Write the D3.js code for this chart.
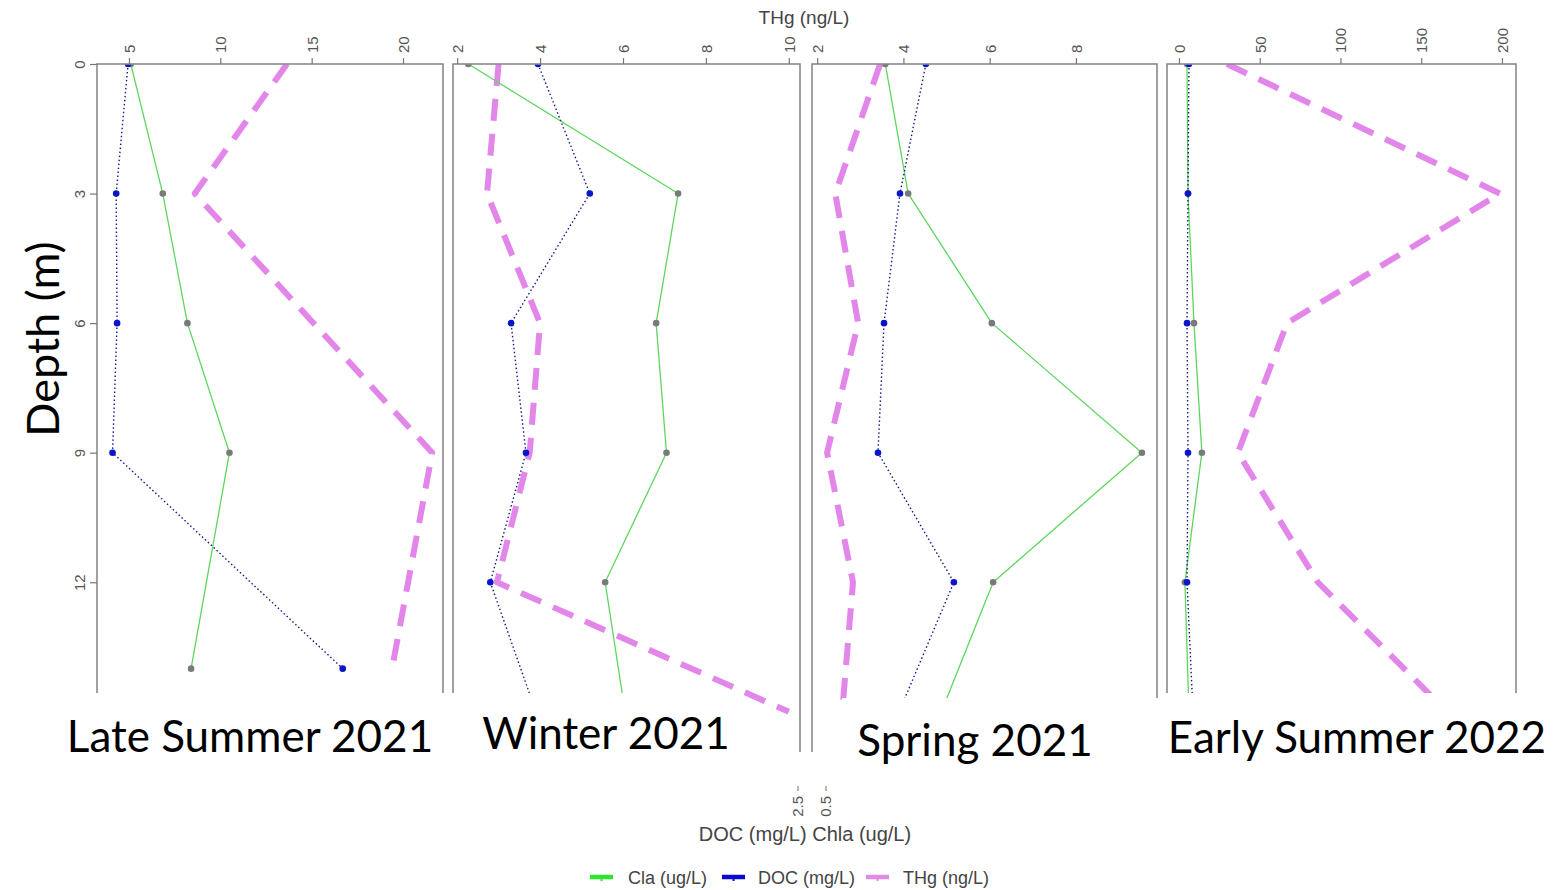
<!DOCTYPE html>
<html>
<head>
<meta charset="utf-8">
<script src="https://cdn.jsdelivr.net/npm/d3@7"></script>
<style>
  html, body { margin: 0; padding: 0; background: #fff; }
  svg { display: block; }
</style>
</head>
<body>
<svg id="chart" width="1554" height="890"></svg>
<script>
// ---- data -------------------------------------------------------------
const seasons = ["Late Summer 2021", "Winter 2021", "Spring 2021", "Early Summer 2022"];
const seriesNames = ["Cla (ug/L)", "DOC (mg/L)", "THg (ng/L)"];
const depthTicks = [0, 3, 6, 9, 12];
const depthRange = [0, 16];

// sampling depths (m) per season
const depthLateSummer = [0, 3, 6, 9, 12, 14];
const depthWinter = [0, 3, 6, 9, 12, 15];
const depthSpring = [0, 3, 6, 9, 12, 15];
const depthEarlySummer = [0, 3, 6, 9, 12, 15];

// chlorophyll a
const chlaLateSummer = [5.1, 6.85, 8.2, 10.5, null, 8.4];
const chlaWinter = [2.27, 7.33, 6.8, 7.05, 5.57, 6.05];
const chlaSpring = [3.58, 4.11, 6.05, 9.53, 6.08, 4.88];
const chlaEarlySummer = [5.0, 5.6, 9.3, 14.2, 3.7, 6.2];

// dissolved organic carbon
const docLateSummer = [4.95, 4.3, 4.35, 4.1, null, 16.7];
const docWinter = [3.95, 5.2, 3.3, 3.66, 2.8, 3.9];
const docSpring = [4.52, 3.92, 3.55, 3.41, 5.17, 3.9];
const docEarlySummer = [6.2, 5.6, 5.0, 5.6, 5.0, 8.7];

// total mercury
const thgLateSummer = [13.65, 8.6, null, 21.6, null, 19.4];
const thgWinter = [3.0, 2.72, 4.0, 3.75, 2.96, 10.0];
const thgSpring = [3.46, 2.42, 2.95, 2.23, 2.83, 2.58];
const thgEarlySummer = [29.7, 198.8, 66.9, 36.5, 86, 166];

// concentration axis limits and tick labels per season
const xLimits = [[3.25, 22.19], [1.9, 10.27], [1.88, 9.88], [-7.4, 208.7]];
const xTicks = [[5, 10, 15, 20], [2, 4, 6, 8, 10], [2, 4, 6, 8], [0, 50, 100, 150, 200]];

// ---- styles -----------------------------------------------------------
const seriesStyle = [
  { stroke: "#5fd65f", width: 1.3, dash: null, dot: "#7a7a7a" },
  { stroke: "#1a1a8c", width: 1.4, dash: "1.5,2.5", dot: "#0a14c8" },
  { stroke: "#e286ea", width: 6, dash: "22,13", dot: null }
];
const legendColors = ["#2ee52e", "#0a0ad0", "#e28ae8"];
const axisFont = "Liberation Sans, Arial, sans-serif";
const labelFont = "Lato, 'Open Sans', sans-serif";

const svg = d3.select("#chart");
const plotTop = 64, plotBottom = 755;
const panelX = [[97, 443], [453, 800], [812, 1157], [1167, 1516]];

const depths = [depthLateSummer, depthWinter, depthSpring, depthEarlySummer];
const chla = [chlaLateSummer, chlaWinter, chlaSpring, chlaEarlySummer];
const doc = [docLateSummer, docWinter, docSpring, docEarlySummer];
const thg = [thgLateSummer, thgWinter, thgSpring, thgEarlySummer];

const y = d3.scaleLinear().domain(depthRange).range([plotTop, plotBottom]);

const defs = svg.append("defs");

seasons.forEach((season, i) => {
  const [x0, x1] = panelX[i];
  const x = d3.scaleLinear().domain(xLimits[i]).range([x0, x1]);
  const g = svg.append("g").attr("class", "panel");

  defs.append("clipPath").attr("id", "clip" + i)
    .append("rect").attr("x", x0).attr("y", plotTop)
    .attr("width", x1 - x0).attr("height", plotBottom - plotTop);

  const plot = g.append("g").attr("clip-path", `url(#clip${i})`);

  const series = [chla[i], doc[i], thg[i]];
  // THg first so the thin profiles stay on top
  [2, 0, 1].forEach(s => {
    const pts = depths[i].map((d, k) => ({ d, v: series[s][k] })).filter(p => p.v != null);
    const st = seriesStyle[s];
    plot.append("path")
      .datum(pts)
      .attr("fill", "none")
      .attr("stroke", st.stroke)
      .attr("stroke-width", st.width)
      .attr("stroke-dasharray", st.dash)
      .attr("stroke-linejoin", "round")
      .attr("d", d3.line().x(p => x(p.v)).y(p => y(p.d)));
    if (st.dot) {
      plot.selectAll(null).data(pts).enter().append("circle")
        .attr("cx", p => x(p.v)).attr("cy", p => y(p.d))
        .attr("r", 3.3).attr("fill", st.dot);
    }
  });

  // frame
  g.append("rect")
    .attr("x", x0).attr("y", plotTop)
    .attr("width", x1 - x0).attr("height", plotBottom - plotTop)
    .attr("fill", "none").attr("stroke", "#8a8a8a").attr("stroke-width", 1.6);

  // top THg axis
  const ax = g.append("g").attr("transform", `translate(0,${plotTop})`)
    .call(d3.axisTop(x).tickValues(xTicks[i]).tickSize(6).tickFormat(d3.format("d")));
  ax.select(".domain").remove();
  ax.selectAll(".tick line").attr("stroke", "#777").attr("stroke-width", 1.2);
  ax.selectAll(".tick text")
    .attr("transform", "rotate(-90)")
    .attr("x", 11).attr("y", 0).attr("dy", "0.36em")
    .attr("text-anchor", "start")
    .attr("fill", "#555")
    .style("font-family", axisFont)
    .style("font-size", "15px");

  if (i === 0) {
    const ay = g.append("g").attr("transform", `translate(${x0},0)`)
      .call(d3.axisLeft(y).tickValues(depthTicks).tickSize(7));
    ay.select(".domain").remove();
    ay.selectAll(".tick line").attr("stroke", "#777").attr("stroke-width", 1.2);
    ay.selectAll(".tick text")
      .attr("transform", "rotate(-90)")
      .attr("x", 0).attr("y", -17).attr("dy", "0.36em")
      .attr("text-anchor", "middle")
      .attr("fill", "#555")
      .style("font-family", axisFont)
      .style("font-size", "15px");
  }
});

// band hiding the lower frame edges
svg.append("rect").attr("x", 440).attr("y", 752).attr("width", 740).attr("height", 30).attr("fill", "#fff");

// season label boxes
const labelBoxes = [[58, 693, 398, 80], [456, 693, 279, 80], [842, 698, 318, 80], [1160, 693, 394, 80]];
const labelCenters = [[250, 735], [606, 732], [975, 739], [1357, 736]];
seasons.forEach((season, i) => {
  const b = labelBoxes[i];
  svg.append("rect").attr("x", b[0]).attr("y", b[1]).attr("width", b[2]).attr("height", b[3]).attr("fill", "#fff");
  svg.append("text")
    .attr("x", labelCenters[i][0]).attr("y", labelCenters[i][1])
    .attr("text-anchor", "middle").attr("dominant-baseline", "central")
    .style("font-family", labelFont)
    .style("font-size", "44px")
    .attr("fill", "#000")
    .text(season);
});

// depth title
svg.append("text")
  .attr("transform", "translate(42,339) rotate(-90)")
  .attr("text-anchor", "middle").attr("dominant-baseline", "central")
  .style("font-family", labelFont)
  .style("font-size", "45px")
  .attr("fill", "#000")
  .text("Depth (m)");

// axis titles
svg.append("text")
  .attr("x", 804).attr("y", 17)
  .attr("text-anchor", "middle").attr("dominant-baseline", "central")
  .style("font-family", axisFont)
  .style("font-size", "19px").attr("fill", "#444")
  .text("THg (ng/L)");

svg.append("text")
  .attr("x", 805).attr("y", 834)
  .attr("text-anchor", "middle").attr("dominant-baseline", "central")
  .style("font-family", axisFont)
  .style("font-size", "20px").attr("fill", "#444")
  .text("DOC (mg/L) Chla (ug/L)");

// remaining bottom tick labels of the DOC/Chla axes
const bottomTickLabels = [["2.5", 798], ["0.5", 826]];
bottomTickLabels.forEach(([t, bx]) => {
  svg.append("line").attr("x1", bx).attr("x2", bx).attr("y1", 786).attr("y2", 791)
    .attr("stroke", "#888").attr("stroke-width", 1.2);
  svg.append("text")
    .attr("transform", `translate(${bx},796) rotate(-90)`)
    .attr("text-anchor", "end").attr("dy", "0.36em")
    .style("font-family", axisFont)
    .style("font-size", "15px").attr("fill", "#555")
    .text(t);
});

// legend
const legendX = [590, 722, 866];
const legendTextX = [628, 758, 903];
const legend = svg.append("g");
seriesNames.forEach((name, i) => {
  const lx = legendX[i];
  legend.append("line")
    .attr("x1", lx).attr("x2", lx + 23).attr("y1", 877).attr("y2", 877)
    .attr("stroke", legendColors[i]).attr("stroke-width", 4.5);
  legend.append("line")
    .attr("x1", lx + 11.5).attr("x2", lx + 11.5).attr("y1", 877).attr("y2", 881)
    .attr("stroke", legendColors[i]).attr("stroke-width", 2);
  legend.append("text")
    .attr("x", legendTextX[i]).attr("y", 878)
    .attr("dominant-baseline", "central")
    .style("font-family", axisFont)
    .style("font-size", "18px").attr("fill", "#444")
    .text(name);
});
</script>
</body>
</html>
